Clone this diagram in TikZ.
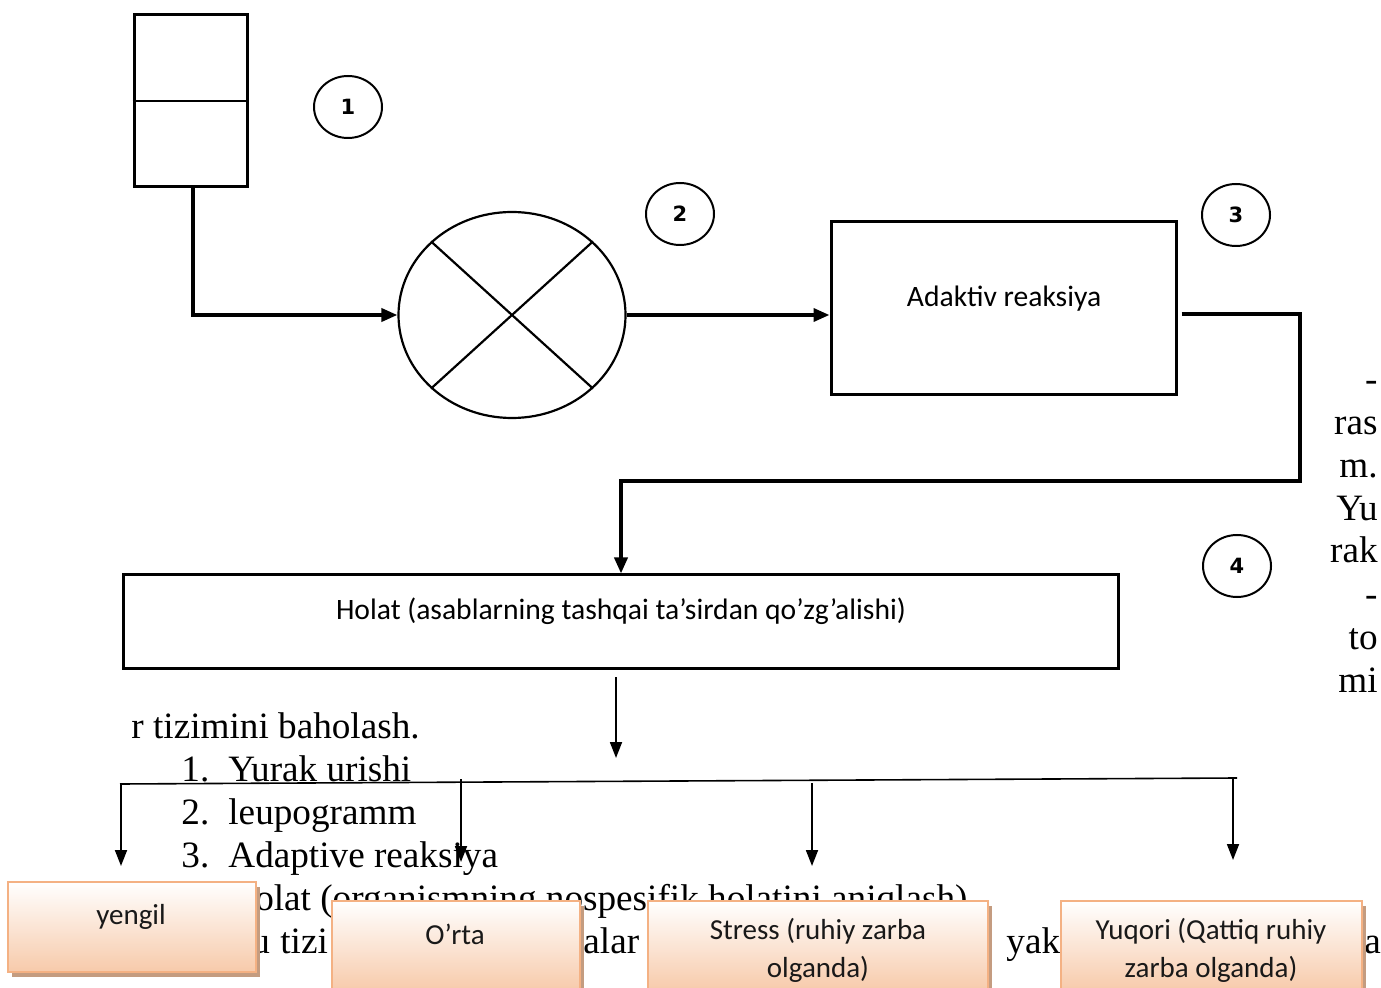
\documentclass[tikz,border=0pt]{standalone}
\usepackage{fontspec}
\setmainfont{Liberation Serif}
\newfontfamily\calfont{Carlito}
\newfontfamily\numfont{DejaVu Sans}
\usetikzlibrary{shapes.geometric,arrows.meta,shadows}
\definecolor{peach}{RGB}{247,202,170}
\definecolor{peachline}{RGB}{244,177,131}
\definecolor{shadowc}{RGB}{196,156,128}
\tikzset{
  frame/.style={draw,line width=1.5pt,rectangle,inner sep=0pt},
  numc/.style={draw,ellipse,line width=1pt,minimum width=34pt,minimum height=31pt,inner sep=0pt,font=\numfont\bfseries\fontsize{10.5}{12}\selectfont},
  conn/.style={line width=1.8pt,-{Triangle[length=8pt,width=6.5pt]}},
  thinarr/.style={line width=0.9pt,-{Triangle[length=8pt,width=6pt]}},
  lbl/.style={font=\calfont\fontsize{14.8}{17}\selectfont,inner sep=0pt},
  btxt/.style={font=\calfont\fontsize{14.5}{19}\selectfont,inner sep=0pt,text=black!90},
  obox/.style={draw=peachline,line width=1.2pt,top color=white,bottom color=peach,inner sep=0pt,
    drop shadow={shadow xshift=2pt,shadow yshift=-2.5pt,fill=shadowc,opacity=1}},
  bgl/.style={font=\fontsize{18.6}{22}\selectfont,inner sep=0pt,anchor=base west},
  bgr/.style={font=\fontsize{18.6}{22}\selectfont,inner sep=0pt,anchor=base east},
}
\begin{document}
\begin{tikzpicture}[x=0.5pt,y=-0.5pt]
\useasboundingbox (0,0) rectangle (1381,988);
\fill[white] (0,0) rectangle (1381,988);
\clip (0,0) rectangle (1381,988);
% background text
\node[bgl] (t0) at (131,738) {r tizimini baholash.};
\node[bgl] (t1n) at (181,781) {1.};
\node[bgl] (t1) at (228,781) {Yurak urishi};
\node[bgl] (t2n) at (181,824) {2.};
\node[bgl] (t2) at (228,824) {leupogramm};
\node[bgl] (t3n) at (181,867) {3.};
\node[bgl] (t3) at (228,867) {Adaptive reaksiya};
\node[bgl] (t4n) at (181,910) {4.};
\node[bgl] (t4) at (228,910) {Holat (organismning nospesifik holatini aniqlash)};
\node[bgl] (t5a) at (251,953) {u};
\node[bgl] (t5b) at (280,953) {tizi};
\node[bgl] (t5c) at (583,953) {alar};
\node[bgl] (t5d) at (1006,953) {yak};
\node[bgl] (t5e) at (1364,953) {a};
\node[bgr] (r1t) at (1378,392) {-};
\node[bgr] (r2t) at (1378,435) {ras};
\node[bgr] (r3t) at (1378,478) {m.};
\node[bgr] (r4t) at (1378,521) {Yu};
\node[bgr] (r5t) at (1378,563) {rak};
\node[bgr] (r6t) at (1378,606) {-};
\node[bgr] (r7t) at (1378,649) {to};
\node[bgr] (r8t) at (1378,692) {mi};
% top diagram
\node[frame,minimum width=56.5pt,minimum height=86pt] (src) at (190.5,101) {};
\draw[line width=1pt] (src.west) -- (src.east);
\node[numc] (n1) at (348,107) {1};
\node[draw,ellipse,line width=1.1pt,minimum width=113.5pt,minimum height=103pt,inner sep=0pt] (mix) at (512,315) {};
\draw[line width=1.1pt] (mix.north west) -- (mix.south east) (mix.south west) -- (mix.north east);
\node[numc] (n2) at (680,214) {2};
\node[frame,minimum width=172.5pt,minimum height=86.5pt] (adapt) at (1003.5,308.5) {};
\node[lbl] (adaptT) at (1004,299) {Adaktiv reaksiya};
\node[numc] (n3) at (1236,215) {3};
\node[frame,minimum width=497.5pt,minimum height=46.5pt] (holat) at (620.5,621.5) {};
\node[lbl] (holatT) at (621,611) {Holat (asablarning tashqai ta’sirdan qo’zg’alishi)};
\node[numc] (n4) at (1237,566) {4};
% connectors
\coordinate (k1) at (193,315);
\draw[conn] (src.south -| k1) -- (k1) -- (mix.west);
\draw[conn] (mix.east) -- (mix.east -| adapt.west);
\coordinate (c1) at (1300,314);
\coordinate (c2) at (621,481);
\draw[conn] ([xshift=2pt]adapt.east |- c1) -- (c1) |- (c2) -- (c2 |- holat.north);
\coordinate (d0) at (616,677);
\coordinate (d1) at (616,758);
\draw[thinarr] (d0) -- (d1);
\coordinate (bL) at (120,784);
\coordinate (bR) at (1237,778);
\draw[line width=0.8pt] (bL) -- (bR);
\coordinate (a1s) at (121,784); \coordinate (a1e) at (121,866);
\coordinate (a2s) at (461,779); \coordinate (a2e) at (461,862);
\coordinate (a3s) at (812,783); \coordinate (a3e) at (812,866);
\coordinate (a4s) at (1233,778); \coordinate (a4e) at (1233,860);
\draw[thinarr] (a1s) -- (a1e);
\draw[thinarr] (a2s) -- (a2e);
\draw[thinarr] (a3s) -- (a3e);
\draw[thinarr] (a4s) -- (a4e);
% orange boxes
\node[obox,minimum width=124pt,minimum height=45pt] (b1) at (132,927) {};
\node[btxt] (b1T) at (131,917) {yengil};
\node[obox,minimum width=124pt,minimum height=45pt] (b2) at (456,946) {};
\node[btxt] (b2T) at (455,934) {O’rta};
\node[obox,minimum width=170pt,minimum height=45pt] (b3) at (818,946) {};
\node[btxt,align=center] (b3T) at (818,950) {Stress (ruhiy zarba\\olganda)};
\node[obox,minimum width=150.5pt,minimum height=45pt] (b4) at (1211.5,946) {};
\node[btxt,align=center] (b4T) at (1211,950) {Yuqori (Qattiq ruhiy\\zarba olganda)};
\end{tikzpicture}
\end{document}
